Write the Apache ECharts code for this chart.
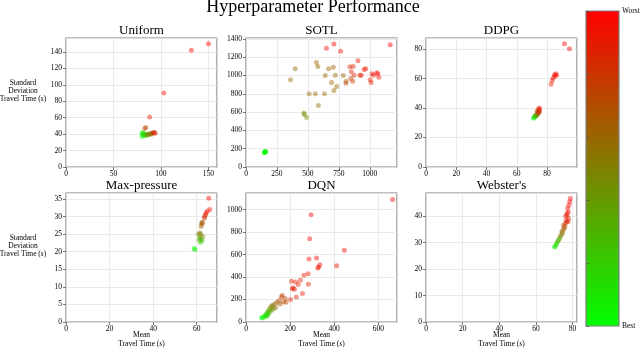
<!DOCTYPE html>
<html>
<head>
<meta charset="utf-8">
<script src="https://cdn.jsdelivr.net/npm/echarts@6.0.0/dist/echarts.min.js"></script>
<style>
  html, body { margin: 0; padding: 0; background: #fff; }
  #chart { width: 640px; height: 348px; }
</style>
</head>
<body>
<div id="chart"></div>
<script>
// [mean travel time, std travel time, score (0 = best, 1 = worst)]
const uniformPts = [
  [80, 37, 0.0], [81, 39, 0.05], [80, 41, 0.08], [82, 40, 0.1], [81, 42, 0.12], [83, 38, 0.15],
  [83, 40, 0.2], [84, 39, 0.25], [85, 40, 0.3], [86, 39, 0.4], [87, 40, 0.45], [88, 40, 0.5],
  [89, 41, 0.55], [90, 40, 0.6], [91, 41, 0.7], [92, 42, 0.8], [93, 42, 0.85], [94, 41, 0.88],
  [83, 47, 0.7], [84, 48, 0.75], [88, 61, 0.9], [103, 90, 0.95], [132, 142, 0.98], [150, 150, 1.0]
];
const sotlPts = [
  [1165, 1335, 1.0], [710, 1345, 0.97], [650, 1298, 0.95], [764, 1265, 0.95], [905, 1160, 0.92],
  [569, 1142, 0.6], [580, 1098, 0.6], [398, 1073, 0.58], [667, 1073, 0.6], [705, 1090, 0.65],
  [840, 1095, 0.85], [867, 1098, 0.85], [954, 1065, 0.92], [967, 1073, 0.93], [851, 1040, 0.88],
  [640, 1000, 0.6], [721, 1003, 0.6], [786, 1000, 0.62], [873, 1003, 0.85], [920, 1003, 0.88],
  [931, 1003, 0.9], [1019, 1018, 0.95], [1057, 1030, 0.97], [1065, 1018, 0.97], [1030, 1003, 0.93],
  [1073, 981, 0.95], [1003, 953, 0.9], [1011, 924, 0.92], [846, 967, 0.75], [862, 938, 0.8],
  [808, 938, 0.7], [808, 916, 0.72], [360, 953, 0.58], [691, 924, 0.6], [732, 880, 0.6],
  [710, 836, 0.6], [510, 800, 0.58], [561, 800, 0.6], [634, 800, 0.6], [585, 673, 0.58],
  [471, 575, 0.45], [490, 542, 0.45], [468, 590, 0.45],
  [149, 160, 0.02], [157, 171, 0.05], [152, 165, 0.0], [155, 162, 0.03], [160, 168, 0.06], [148, 155, 0.01]
];
const ddpgPts = [
  [91.5, 83.6, 1.0], [94.8, 80.2, 0.98], [85.8, 63.3, 0.95], [86.4, 62.2, 0.95], [85.1, 61.5, 0.94],
  [84, 60.4, 0.93], [83.4, 58.6, 0.92], [82.7, 56.1, 0.9], [85, 62.5, 0.94],
  [71, 33, 0.0], [71.5, 33.5, 0.05], [72, 34, 0.1], [72.5, 34.5, 0.2], [72, 35, 0.25], [73, 35, 0.35],
  [73.5, 35.5, 0.45], [73.5, 36.5, 0.55], [74, 36, 0.6], [74.5, 37, 0.7], [74, 38, 0.75],
  [75, 37.5, 0.8], [75, 38.5, 0.85], [74.5, 39.5, 0.88], [75, 40, 0.9], [73.5, 38, 0.8]
];
const maxPressurePts = [
  [65.5, 35.2, 1.0], [66, 32, 0.97], [64.8, 31.5, 0.95], [64.3, 31, 0.93], [64, 30.5, 0.9],
  [63.6, 30, 0.85], [63.5, 29.5, 0.8], [62.6, 28.2, 0.7], [62.2, 27.8, 0.68], [62.4, 28.4, 0.65],
  [62, 27.2, 0.62], [61.4, 25.4, 0.55], [61.8, 25, 0.5], [60.8, 24.9, 0.45], [62.8, 24.3, 0.5],
  [61.4, 24, 0.4], [61, 23.3, 0.3], [61.8, 23.6, 0.35], [61.7, 22.6, 0.2], [62.5, 23.2, 0.25],
  [58.8, 20.9, 0.0], [59.2, 20.6, 0.05]
];
const dqnPts = [
  [665, 1090, 1.0], [295, 955, 0.98], [289, 740, 0.97], [446, 638, 0.96], [286, 560, 0.95],
  [320, 570, 0.95], [335, 510, 0.94], [329, 490, 0.93], [326, 480, 0.93], [411, 500, 0.94],
  [282, 430, 0.92], [263, 415, 0.91], [247, 372, 0.9], [207, 362, 0.9], [225, 356, 0.9],
  [237, 333, 0.89], [283, 335, 0.9], [210, 297, 0.88], [220, 292, 0.88], [213, 305, 0.88],
  [256, 253, 0.87], [228, 222, 0.86], [202, 200, 0.85],
  [165, 235, 0.78], [160, 222, 0.75], [178, 210, 0.74], [182, 175, 0.72], [170, 178, 0.7],
  [150, 190, 0.7], [140, 175, 0.65], [155, 160, 0.66], [130, 160, 0.6], [120, 150, 0.55],
  [115, 140, 0.52], [135, 130, 0.55], [125, 120, 0.5], [110, 125, 0.45], [105, 110, 0.4],
  [118, 105, 0.42], [100, 95, 0.35],
  [108, 90, 0.3], [95, 80, 0.25], [100, 70, 0.2], [90, 65, 0.15], [85, 55, 0.1], [92, 50, 0.12],
  [80, 45, 0.08], [75, 35, 0.03], [70, 38, 0.0], [98, 60, 0.18]
];
const webstersPts = [
  [78.7, 46.7, 1.0], [78.4, 45.5, 0.98], [78, 44.2, 0.96],
  [77.3, 43, 0.95], [77.6, 41.7, 0.93], [76.9, 40.4, 0.92], [77.8, 39.2, 0.9], [76.5, 38.5, 0.9],
  [77, 41, 0.92], [76.2, 40, 0.88], [77.5, 38, 0.88], [76.8, 37.8, 0.85],
  [76, 37.3, 0.8], [75, 36.6, 0.75], [75.4, 35.4, 0.7], [74.7, 34.7, 0.65], [75.8, 36, 0.72],
  [74.1, 34.1, 0.55], [73.6, 32.8, 0.5], [73.2, 32.2, 0.45], [74.5, 33.5, 0.55],
  [72.3, 30.9, 0.3], [71.4, 29.7, 0.2], [70.5, 28.7, 0.1], [70.2, 28.4, 0.05], [72.8, 31.5, 0.35],
  [71.8, 30.5, 0.25], [71, 29.2, 0.15]
];

const panelNames = ['Uniform', 'SOTL', 'DDPG', 'Max-pressure', 'DQN', "Webster's"];
const panelData = [uniformPts, sotlPts, ddpgPts, maxPressurePts, dqnPts, webstersPts];
// axis ranges: [xmax, xstep, ymax, ystep]
const panelAxes = [
  [159, 50, 157, 20],
  [1220, 250, 1410, 200],
  [99.8, 20, 87.5, 20],
  [69.3, 20, 36.7, 5],
  [685, 200, 1148, 200],
  [82.4, 20, 48.8, 10]
];
const colorbarLabels = { 0: 'Best', 1: 'Worst' };

const serif = 'Liberation Serif';
const lefts = [66, 246, 426];
const tops = [38, 193];
const W = 151, H = 129;

let chart = echarts.init(document.getElementById('chart'));

let grid = [], xAxis = [], yAxis = [], series = [];
let title = [{
  text: 'Hyperparameter Performance',
  left: 313, top: -2, textAlign: 'center', padding: 0,
  textStyle: { fontFamily: serif, fontSize: 18, fontWeight: 'normal', color: '#000' }
}];

const tickFont = { fontFamily: serif, fontSize: 7.5, color: '#000' };
const labelRich = {
  n: { fontFamily: serif, fontSize: 7.5, color: '#000', lineHeight: 9 },
  i: { fontFamily: serif, fontSize: 7.5, color: '#000', fontStyle: 'italic', lineHeight: 9 }
};
// plain numbers, no thousands separator
const plain = function (v) { return String(v); };

panelNames.forEach(function (name, i) {
  let left = lefts[i % 3], top = tops[Math.floor(i / 3)];
  let ax = panelAxes[i];
  grid.push({
    left: left, top: top, width: W, height: H,
    show: true, borderColor: '#7f7f7f', borderWidth: 1.2,
    containLabel: false, outerBoundsMode: 'none'
  });
  title.push({
    text: name, left: left + W / 2, top: top - 14, textAlign: 'center', padding: 0,
    textStyle: { fontFamily: serif, fontSize: 13, fontWeight: 'normal', color: '#000' }
  });
  let x = {
    gridIndex: i, type: 'value', min: 0, max: ax[0], interval: ax[1],
    axisLine: { show: false },
    axisTick: { show: true, length: 3, lineStyle: { color: '#555', width: 0.8 } },
    axisLabel: Object.assign({ margin: 3, showMaxLabel: false, formatter: plain }, tickFont),
    splitLine: { show: true, lineStyle: { color: '#e4e4e4', width: 0.8 } }
  };
  let y = {
    gridIndex: i, type: 'value', min: 0, max: ax[2], interval: ax[3],
    axisLine: { show: false },
    axisTick: { show: true, length: 3, lineStyle: { color: '#555', width: 0.8 } },
    axisLabel: Object.assign({ margin: 4, showMaxLabel: false, formatter: plain }, tickFont),
    splitLine: { show: true, lineStyle: { color: '#e4e4e4', width: 0.8 } }
  };
  if (i >= 3) {
    x.name = 'Mean\n{n|Travel Time (}{i|s}{n|)}';
    x.nameLocation = 'middle';
    x.nameGap = 9;
    x.nameMoveOverlap = false;
    x.nameTextStyle = Object.assign({ lineHeight: 9, align: 'center', rich: labelRich }, tickFont);
  }
  if (i % 3 === 0) {
    y.name = 'Standard\nDeviation\n{n|Travel Time (}{i|s}{n|)}';
    y.nameLocation = 'middle';
    y.nameRotate = 0;
    y.nameGap = 43;
    y.nameMoveOverlap = false;
    y.nameTextStyle = Object.assign({
      lineHeight: 8, align: 'center', verticalAlign: 'middle', padding: [0, 0, 23, 0],
      rich: { n: Object.assign({}, labelRich.n, { lineHeight: 8 }), i: Object.assign({}, labelRich.i, { lineHeight: 8 }) }
    }, tickFont);
  }
  xAxis.push(x);
  yAxis.push(y);
  series.push({
    type: 'scatter', xAxisIndex: i, yAxisIndex: i,
    symbolSize: 5, itemStyle: { opacity: 0.45 },
    data: panelData[i]
  });
});

// colorbar: its own grid with a gradient background and a right-hand axis
grid.push({
  left: 586, top: 11, width: 33, height: 315,
  show: true, borderColor: '#7f7f7f', borderWidth: 1.2,
  backgroundColor: new echarts.graphic.LinearGradient(0, 0, 0, 1, [
    { offset: 0, color: '#ff0000' },
    { offset: 1, color: '#00ff00' }
  ]),
  containLabel: false, outerBoundsMode: 'none'
});
xAxis.push({ gridIndex: 6, type: 'value', show: false });
yAxis.push({
  gridIndex: 6, type: 'value', position: 'right', min: 0, max: 1, interval: 0.2,
  axisLine: { show: false },
  axisTick: { show: true, length: 3, lineStyle: { color: '#555', width: 0.8 } },
  axisLabel: Object.assign({
    margin: 3,
    formatter: function (v) { return colorbarLabels[v] || ''; }
  }, tickFont),
  splitLine: { show: false }
});

let option = {
  backgroundColor: '#fff',
  animation: false,
  title: title,
  grid: grid,
  xAxis: xAxis,
  yAxis: yAxis,
  visualMap: {
    show: false, type: 'continuous', min: 0, max: 1, dimension: 2,
    seriesIndex: [0, 1, 2, 3, 4, 5],
    inRange: { color: ['#00ff00', '#ff0000'] }
  },
  series: series
};

option && chart.setOption(option);
</script>
</body>
</html>
